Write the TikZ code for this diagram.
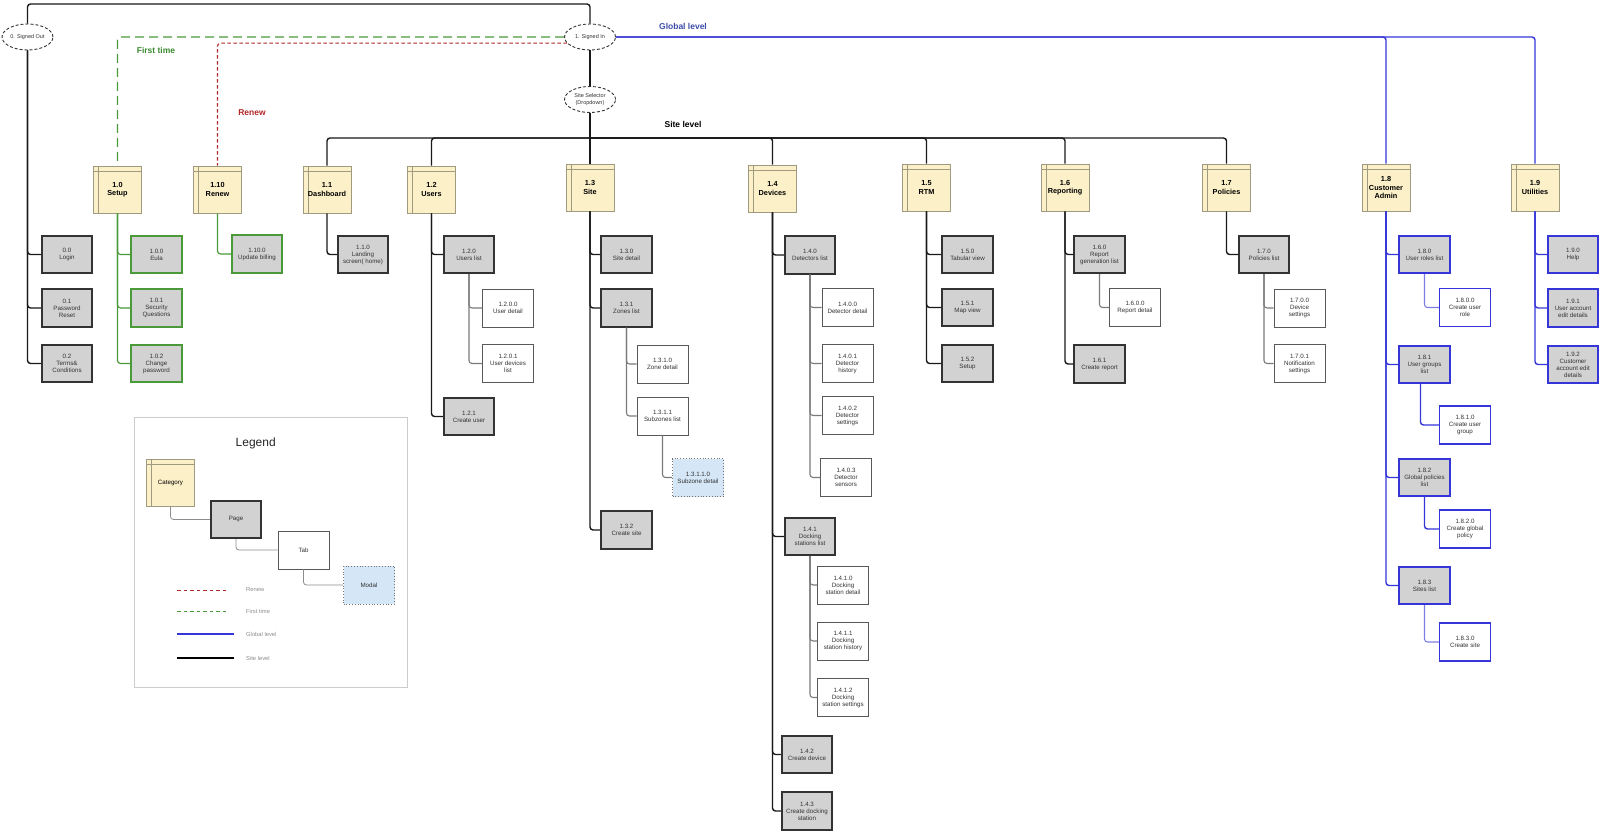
\documentclass[tikz,border=0pt]{standalone}
\usepackage{fontspec}
\setmainfont{Liberation Sans}
\usetikzlibrary{shapes.geometric}
\definecolor{catfill}{HTML}{FCF0C8}
\definecolor{catdraw}{HTML}{A09A80}
\definecolor{pagefill}{HTML}{D2D2D2}
\definecolor{pagedraw}{HTML}{333333}
\definecolor{grn}{HTML}{4A9A3A}
\definecolor{blu}{HTML}{3535D8}
\definecolor{rdd}{HTML}{B0282A}
\definecolor{modalfill}{HTML}{D5E6F6}
\definecolor{subc}{HTML}{7A7A7A}
\definecolor{globc}{HTML}{3C4CA8}
\definecolor{firstc}{HTML}{3A8A2E}
\tikzset{
 x=1pt,y=-1pt,
 cat/.style={draw=catdraw, fill=catfill, line width=0.8pt, minimum width=48pt, minimum height=47pt,
   inner sep=0pt, align=center, font=\fontsize{7.3}{8.3}\selectfont\bfseries,
   path picture={\draw[catdraw,line width=0.6pt] ([xshift=5pt]path picture bounding box.north west) -- ([xshift=5pt]path picture bounding box.south west);
     \draw[catdraw,line width=0.6pt] ([yshift=-5pt]path picture bounding box.north west) -- ([yshift=-5pt]path picture bounding box.north east);}},
 page/.style={draw=pagedraw, fill=pagefill, line width=1.6pt, minimum width=50.5pt, minimum height=37.5pt,
   inner sep=1pt, align=center, font=\fontsize{6.2}{7}\selectfont, text=black!80},
 gpage/.style={page, draw=grn},
 bpage/.style={page, draw=blu, line width=1.8pt},
 tab/.style={draw=black!65, fill=white, line width=0.8pt, minimum width=51pt, minimum height=38pt,
   inner sep=1pt, align=center, font=\fontsize{6.2}{7}\selectfont, text=black!80},
 btab/.style={tab, draw=blu, line width=1.2pt},
 modal/.style={tab, fill=modalfill, draw=black!55, dotted, line width=0.7pt},
 oval/.style={ellipse, draw=black!80, dash pattern=on 3pt off 2pt, line width=0.9pt, fill=white,
   minimum width=51pt, minimum height=26pt, inner sep=0pt, align=center, font=\fontsize{5.5}{6.5}\selectfont, text=black!80},
 conn/.style={rounded corners=3pt},
 sitel/.style={conn, draw=black!90, line width=1.4pt},
 subl/.style={conn, draw=subc, line width=1.1pt},
 grnl/.style={conn, draw=grn, line width=1.2pt},
 globl/.style={conn, draw=blu, line width=1.4pt},
 bsubl/.style={conn, draw=blu!65, line width=1.1pt},
 firstl/.style={conn, draw=grn, dash pattern=on 9pt off 5pt, line width=1.2pt},
 renewl/.style={conn, draw=rdd, dash pattern=on 3.5pt off 2.5pt, line width=1.1pt},
 lbl/.style={font=\fontsize{8.5}{9}\selectfont\bfseries},
 leglbl/.style={anchor=west, font=\fontsize{5.8}{6.5}\selectfont, text=black!45, inner sep=0pt},
}
\begin{document}
\begin{tikzpicture}
\useasboundingbox (0,0) rectangle (1600,832);

% legend frame
\node[draw=black!20, line width=0.8pt, minimum width=273pt, minimum height=270pt, inner sep=0pt] (legend) at (270.5,552) {};
\node[font=\fontsize{12}{13}\selectfont, text=black!85] (legtitle) at (255.7,443) {Legend};

% ovals
\node[oval] (so) at (27.5,37) {0. Signed Out};
\node[oval] (si) at (590,37) {1. Signed In};
\node[oval] (ss) at (590,99.5) {Site Selector\\(Dropdown)};

% categories
\node[cat] (c10) at (117.5,189.5) {1.0\\Setup};
\node[cat] (c110) at (217.5,189.5) {1.10\\Renew};
\node[cat] (c11) at (327,189.5) {1.1\\Dashboard};
\node[cat] (c12) at (431.5,189.5) {1.2\\Users};
\node[cat] (c13) at (590,187.5) {1.3\\Site};
\node[cat] (c14) at (772.5,188.5) {1.4\\Devices};
\node[cat] (c15) at (926.5,187.5) {1.5\\RTM};
\node[cat] (c16) at (1065,187.5) {1.6\\Reporting};
\node[cat] (c17) at (1226.5,187.5) {1.7\\Policies};
\node[cat] (c18) at (1386,187.5) {1.8\\Customer\\Admin};
\node[cat] (c19) at (1535,187.5) {1.9\\Utilities};

% labels
\node[lbl, text=firstc] (lfirst) at (156,50) {First time};
\node[lbl, text=rdd] (lrenew) at (252,113) {Renew};
\node[lbl, text=globc] (lglob) at (683,26) {Global level};
\node[lbl, text=black] (lsite) at (683,124) {Site level};

% top connectors
\coordinate (topy) at (300,4);
\coordinate (hub) at (590,138);
\draw[sitel] (so.north) |- (topy) -| (si.north);
\draw[sitel] (si.south) -- (ss.north);
\draw[sitel] (ss.south) -- (hub);
\foreach \c in {c11,c12,c13,c14,c15,c16,c17} { \draw[sitel] (hub) -| (\c.north); }
\draw[firstl] (si.west) -| (c10.north);
\draw[renewl] (si.195) -| (c110.north);
\draw[globl] (si.east) -| (c18.north);
\draw[globl] (si.east) -| (c19.north);

% 0.x
\node[page] (p00) at (67,254.5) {0.0\\Login};
\node[page] (p01) at (67,308) {0.1\\Password\\Reset};
\node[page] (p02) at (67,363.5) {0.2\\Terms\&\\Conditions};
\draw[sitel] (so.south) |- (p00.west);
\draw[sitel] (so.south) |- (p01.west);
\draw[sitel] (so.south) |- (p02.west);

% 1.0 setup
\node[gpage] (p100) at (156.5,254.5) {1.0.0\\Eula};
\node[gpage] (p101) at (156.5,308) {1.0.1\\Security\\Questions};
\node[gpage] (p102) at (156.5,363.5) {1.0.2\\Change\\password};
\foreach \p in {p100,p101,p102} { \draw[grnl] (c10.south) |- (\p.west); }
\node[gpage] (p1100) at (257,254) {1.10.0\\Update billing};
\draw[grnl] (c110.south) |- (p1100.west);

% 1.1
\node[page] (p110) at (363,254.5) {1.1.0\\Landing\\screen( home)};
\draw[sitel] (c11.south) |- (p110.west);

% 1.2
\node[page] (p120) at (469,254.5) {1.2.0\\Users list};
\node[tab] (t1200) at (508,308) {1.2.0.0\\User detail};
\node[tab] (t1201) at (508,363.5) {1.2.0.1\\User devices\\list};
\node[page] (p121) at (469,416.5) {1.2.1\\Create user};
\foreach \p in {p120,p121} { \draw[sitel] (c12.south) |- (\p.west); }
\foreach \p in {t1200,t1201} { \draw[subl] (p120.south) |- (\p.west); }

% 1.3
\node[page] (p130) at (626.5,254.5) {1.3.0\\Site detail};
\node[page] (p131) at (626.5,308) {1.3.1\\Zones list};
\node[tab] (t1310) at (662.5,364) {1.3.1.0\\Zone detail};
\node[tab] (t1311) at (662.5,416) {1.3.1.1\\Subzones list};
\node[modal] (m13110) at (698,477.5) {1.3.1.1.0\\Subzone detail};
\node[page] (p132) at (626.5,530) {1.3.2\\Create site};
\foreach \p in {p130,p131,p132} { \draw[sitel] (c13.south) |- (\p.west); }
\foreach \p in {t1310,t1311} { \draw[subl] (p131.south) |- (\p.west); }
\draw[subl] (t1311.south) |- (m13110.west);

% 1.4
\node[page] (p140) at (810,255) {1.4.0\\Detectors list};
\node[tab] (t1400) at (847.5,307.5) {1.4.0.0\\Detector detail};
\node[tab] (t1401) at (847.5,363.5) {1.4.0.1\\Detector\\history};
\node[tab] (t1402) at (847.5,415.5) {1.4.0.2\\Detector\\settings};
\node[tab] (t1403) at (846,477.5) {1.4.0.3\\Detector\\sensors};
\node[page] (p141) at (810,536.5) {1.4.1\\Docking\\stations list};
\node[tab] (t1410) at (843,585) {1.4.1.0\\Docking\\station detail};
\node[tab] (t1411) at (843,641) {1.4.1.1\\Docking\\station history};
\node[tab] (t1412) at (843,697.5) {1.4.1.2\\Docking\\station settings};
\node[page] (p142) at (807,754.5) {1.4.2\\Create device};
\node[page] (p143) at (807,811) {1.4.3\\Create docking\\station};
\foreach \p in {p140,p141,p142,p143} { \draw[sitel] (c14.south) |- (\p.west); }
\foreach \p in {t1400,t1401,t1402,t1403} { \draw[subl] (p140.south) |- (\p.west); }
\foreach \p in {t1410,t1411,t1412} { \draw[subl] (p141.south) |- (\p.west); }

% 1.5
\node[page] (p150) at (967.5,254.5) {1.5.0\\Tabular view};
\node[page] (p151) at (967.5,307.5) {1.5.1\\Map view};
\node[page] (p152) at (967.5,363.5) {1.5.2\\Setup};
\foreach \p in {p150,p151,p152} { \draw[sitel] (c15.south) |- (\p.west); }

% 1.6
\node[page] (p160) at (1099.5,254.5) {1.6.0\\Report\\generation list};
\node[tab] (t1600) at (1135,307.5) {1.6.0.0\\Report detail};
\node[page] (p161) at (1099.5,364) {1.6.1\\Create report};
\foreach \p in {p160,p161} { \draw[sitel] (c16.south) |- (\p.west); }
\draw[subl] (p160.south) |- (t1600.west);

% 1.7
\node[page] (p170) at (1264,254.5) {1.7.0\\Policies list};
\node[tab] (t1700) at (1299.5,308) {1.7.0.0\\Device\\settings};
\node[tab] (t1701) at (1299.5,363.5) {1.7.0.1\\Notification\\settings};
\draw[sitel] (c17.south) |- (p170.west);
\foreach \p in {t1700,t1701} { \draw[subl] (p170.south) |- (\p.west); }

% 1.8
\node[bpage] (p180) at (1424.5,254.5) {1.8.0\\User roles list};
\node[btab] (t1800) at (1465,307.5) {1.8.0.0\\Create user\\role};
\node[bpage] (p181) at (1424.5,364.5) {1.8.1\\User groups\\list};
\node[btab] (t1810) at (1465,425) {1.8.1.0\\Create user\\group};
\node[bpage] (p182) at (1424.5,477.5) {1.8.2\\Global policies\\list};
\node[btab] (t1820) at (1465,529) {1.8.2.0\\Create global\\policy};
\node[bpage] (p183) at (1424.5,585.5) {1.8.3\\Sites list};
\node[btab] (t1830) at (1465,642) {1.8.3.0\\Create site};
\foreach \p in {p180,p181,p182,p183} { \draw[globl] (c18.south) |- (\p.west); }
\draw[bsubl] (p180.south) |- (t1800.west);
\draw[globl] ([xshift=-4pt]p181.south) |- (t1810.west);
\draw[globl] (p182.south) |- (t1820.west);
\draw[bsubl] (p183.south) |- (t1830.west);

% 1.9
\node[bpage] (p190) at (1573,254.5) {1.9.0\\Help};
\node[bpage] (p191) at (1573,308) {1.9.1\\User account\\edit details};
\node[bpage] (p192) at (1573,364.5) {1.9.2\\Customer\\account edit\\details};
\foreach \p in {p190,p191,p192} { \draw[globl] (c19.south) |- (\p.west); }

% legend content
\node[cat, font=\fontsize{6.2}{7}\selectfont] (lcat) at (170.5,482.5) {Category};
\node[page, font=\fontsize{6.2}{7}\selectfont] (lpage) at (236,519.5) {Page};
\node[tab] (ltab) at (303.5,550) {Tab};
\node[modal] (lmodal) at (369,585) {Modal};
\draw[subl, line width=0.8pt, draw=black!45] (lcat.south) |- (lpage.west);
\draw[subl, line width=0.8pt, draw=black!45] (lpage.south) |- (ltab.west);
\draw[subl, line width=0.8pt, draw=black!45] (ltab.south) |- (lmodal.west);

\coordinate (lr1) at (177,590); \coordinate (lr2) at (229,590);
\coordinate (lf1) at (177,611); \coordinate (lf2) at (229,611);
\coordinate (lg1) at (177,634); \coordinate (lg2) at (234,634);
\coordinate (ls1) at (177,658); \coordinate (ls2) at (234,658);
\draw[rdd, dash pattern=on 3.5pt off 3pt, line width=0.9pt] (lr1) -- (lr2);
\draw[grn, dash pattern=on 3.5pt off 3pt, line width=0.9pt] (lf1) -- (lf2);
\draw[blu, line width=1.1pt] (lg1) -- (lg2);
\draw[black, line width=1.1pt] (ls1) -- (ls2);
\node[leglbl] (llr) at (246,590) {Renew};
\node[leglbl] (llf) at (246,611) {First time};
\node[leglbl] (llg) at (246,634) {Global level};
\node[leglbl] (lls) at (246,658) {Site level};
\end{tikzpicture}
\end{document}
